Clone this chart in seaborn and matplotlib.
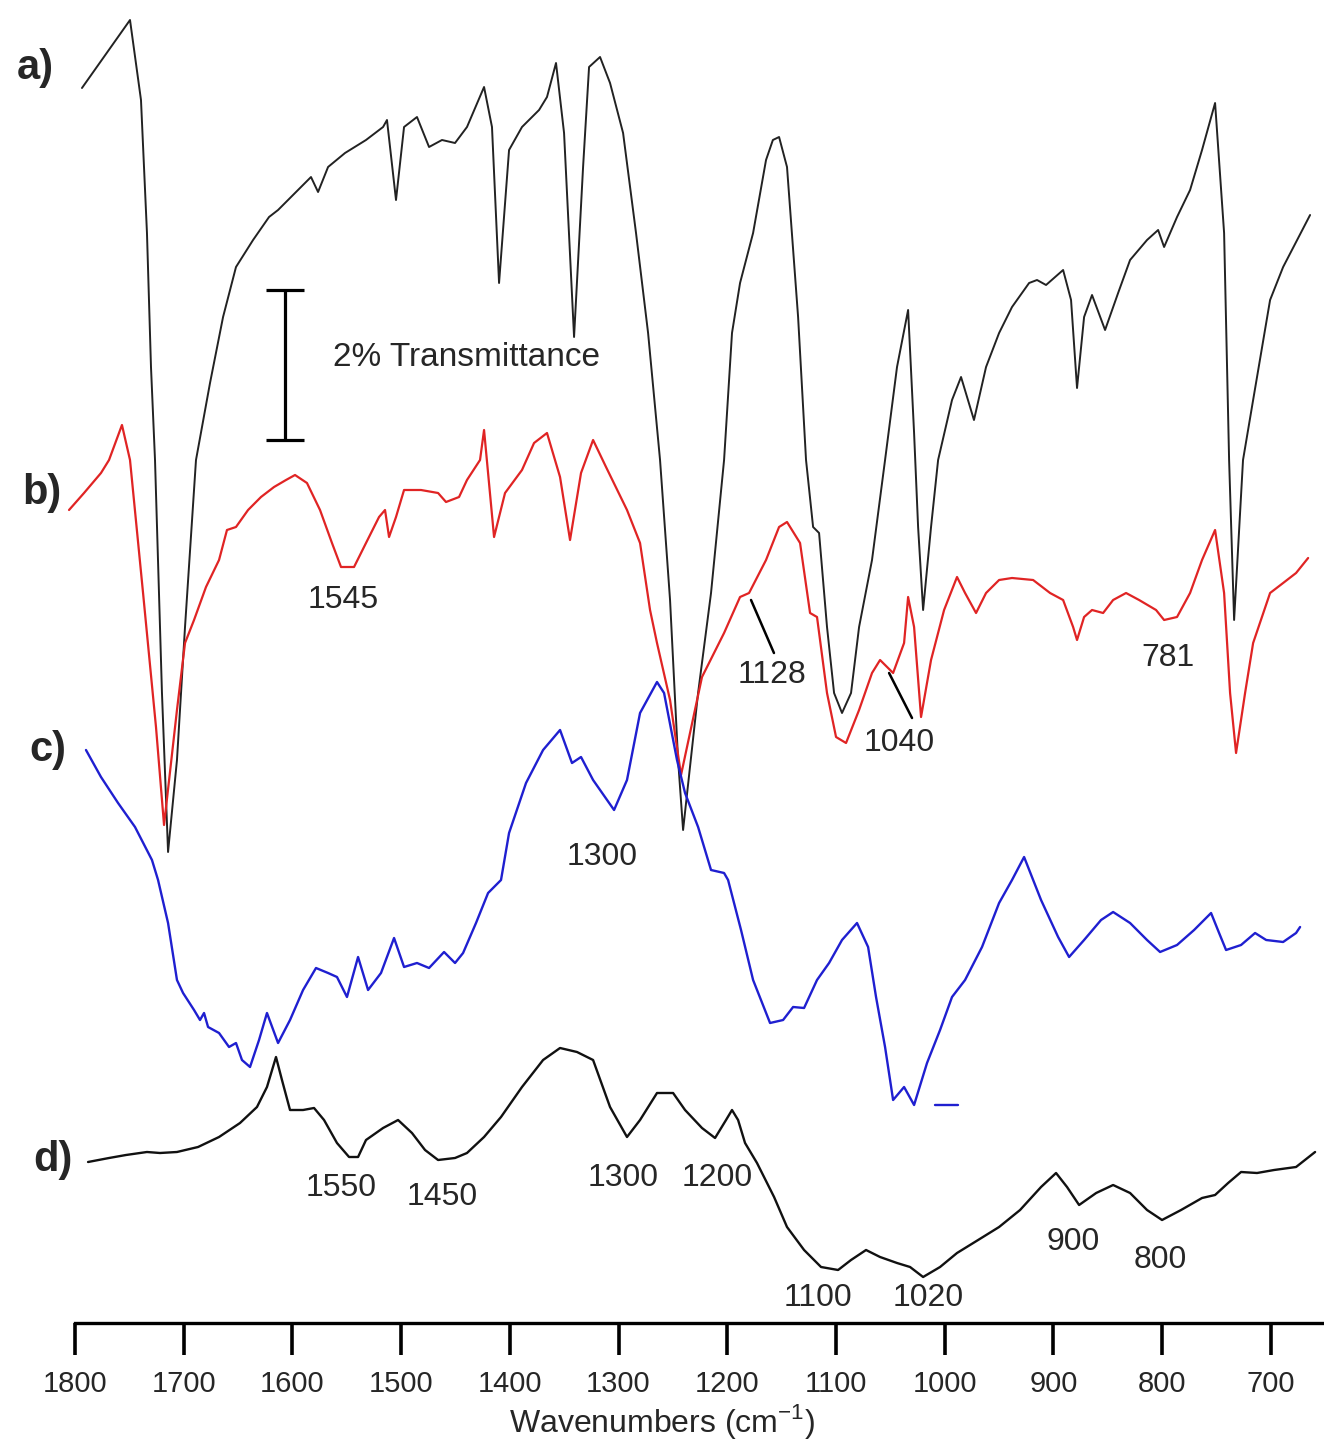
import numpy as np
import pandas as pd
import matplotlib
matplotlib.use("Agg")
import matplotlib.pyplot as plt
import seaborn as sns

# FTIR Spektren, Werte (Wellenzahl, relative Transmission in a.u.)
# 150 a.u. entsprechen 2 % Transmission

wn_a = [1793.6, 1749.4, 1739.3, 1733.8, 1730.1, 1726.4, 1720.0, 1714.4, 1706.2, 1698.8,
        1688.7, 1675.8, 1663.8, 1651.9, 1636.2, 1621.5, 1613.2, 1597.6, 1582.9, 1576.4,
        1567.2, 1551.6, 1532.3, 1516.6, 1513.0, 1504.7, 1497.3, 1485.4, 1474.3, 1462.4,
        1450.4, 1439.4, 1423.7, 1416.4, 1409.9, 1400.7, 1388.8, 1373.1, 1365.8, 1357.5,
        1350.1, 1340.9, 1332.6, 1327.1, 1317.0, 1307.8, 1295.8, 1283.9, 1272.8, 1261.8,
        1252.6, 1245.2, 1240.6, 1226.8, 1214.9, 1202.9, 1195.6, 1188.2, 1176.2, 1164.3,
        1158.0, 1152.3, 1145.0, 1134.8, 1127.5, 1121.0, 1115.5, 1108.2, 1101.7, 1094.4,
        1086.1, 1078.7, 1066.8, 1054.8, 1043.8, 1033.6, 1028.1, 1024.4, 1019.8, 1012.5,
        1006.0, 993.2, 984.9, 973.0, 961.9, 949.9, 938.0, 922.3, 915.0, 906.7,
        891.0, 883.7, 878.2, 871.7, 864.4, 852.4, 840.4, 829.4, 813.8, 803.6,
        798.1, 786.2, 774.2, 763.2, 751.2, 742.9, 738.3, 733.7, 725.5, 716.2,
        700.6, 688.6, 663.8]
t_a = [1360, 1428, 1348, 1215, 1081, 988, 755, 596, 688, 821,
       988, 1065, 1131, 1181, 1208, 1231, 1238, 1255, 1271, 1256,
       1281, 1295, 1308, 1321, 1328, 1248, 1321, 1331, 1301, 1308,
       1305, 1321, 1361, 1321, 1165, 1298, 1321, 1338, 1351, 1385,
       1315, 1111, 1281, 1381, 1391, 1365, 1315, 1215, 1115, 988,
       848, 688, 618, 755, 855, 988, 1115, 1165, 1215, 1288,
       1308, 1311, 1281, 1131, 988, 921, 915, 821, 755, 735,
       755, 821, 888, 988, 1081, 1138, 1015, 921, 838, 921,
       988, 1048, 1071, 1028, 1081, 1115, 1141, 1165, 1168, 1163,
       1178, 1148, 1060, 1131, 1153, 1118, 1155, 1188, 1208, 1218,
       1201, 1231, 1258, 1298, 1345, 1215, 988, 828, 988, 1048,
       1148, 1181, 1233]

wn_b = [1805.5, 1791.7, 1776.1, 1768.7, 1756.8, 1749.4, 1737.4, 1725.5, 1718.1, 1706.2,
        1698.8, 1690.5, 1679.5, 1667.5, 1660.2, 1651.9, 1640.8, 1628.9, 1616.9, 1605.9,
        1597.6, 1586.6, 1574.6, 1563.6, 1555.3, 1543.3, 1532.3, 1520.3, 1514.8, 1511.1,
        1504.7, 1497.3, 1481.7, 1466.0, 1458.7, 1446.7, 1439.4, 1427.4, 1423.7, 1414.5,
        1404.4, 1388.8, 1377.7, 1365.8, 1353.8, 1344.6, 1334.5, 1323.4, 1311.5, 1292.2,
        1280.2, 1271.0, 1264.6, 1252.6, 1242.5, 1223.2, 1202.9, 1188.2, 1179.9, 1164.3,
        1152.3, 1145.0, 1133.0, 1123.8, 1117.4, 1108.2, 1099.9, 1090.7, 1078.7, 1066.8,
        1059.4, 1047.4, 1037.3, 1033.6, 1028.1, 1021.7, 1012.5, 1000.5, 988.6, 981.2,
        971.1, 961.9, 949.9, 938.0, 918.6, 903.0, 891.0, 881.8, 878.2, 871.7,
        864.4, 854.2, 845.0, 833.1, 821.1, 805.5, 798.1, 786.2, 774.2, 763.2,
        751.2, 742.9, 737.4, 731.9, 723.6, 716.2, 700.6, 688.6, 676.7, 665.6]
t_b = [938, 955, 975, 988, 1023, 988, 855, 721, 623, 738,
       805, 828, 861, 888, 918, 921, 938, 951, 961, 968,
       973, 965, 938, 905, 881, 881, 905, 931, 938, 911,
       931, 958, 958, 955, 946, 951, 968, 988, 1018, 911,
       955, 978, 1005, 1015, 971, 908, 975, 1008, 981, 938,
       905, 838, 805, 748, 673, 771, 815, 851, 855, 888,
       921, 926, 905, 835, 831, 755, 711, 705, 738, 775,
       788, 775, 805, 851, 821, 731, 788, 838, 871, 855,
       835, 855, 868, 870, 868, 855, 848, 821, 808, 831,
       838, 835, 848, 855, 848, 838, 828, 831, 855, 888,
       918, 855, 755, 695, 755, 805, 855, 865, 875, 890]

wn_c = [1789.9, 1776.1, 1760.4, 1744.8, 1729.2, 1723.6, 1714.4, 1706.2, 1700.6, 1690.5,
        1685.0, 1681.3, 1677.6, 1667.5, 1658.3, 1651.9, 1646.4, 1639.0, 1630.7, 1623.4,
        1613.2, 1602.2, 1590.2, 1578.3, 1567.2, 1559.0, 1549.8, 1539.6, 1530.4, 1518.5,
        1506.5, 1497.3, 1485.4, 1474.3, 1460.5, 1450.4, 1443.0, 1431.1, 1420.0, 1408.1,
        1400.7, 1385.1, 1369.4, 1353.8, 1342.8, 1334.5, 1323.4, 1304.1, 1292.2, 1280.2,
        1264.6, 1258.1, 1246.2, 1238.8, 1226.8, 1214.9, 1202.9, 1199.2, 1187.3, 1176.2,
        1160.6, 1148.6, 1139.4, 1129.3, 1117.4, 1106.3, 1094.4, 1080.6, 1070.4, 1063.1,
        1054.8, 1047.4, 1037.3, 1028.1, 1016.2, 1004.2, 993.2, 981.2, 965.6, 949.9,
        938.0, 926.9, 911.3, 895.6, 885.5, 871.7, 856.1, 845.0, 829.4, 813.8,
        801.8, 786.2, 770.5, 754.9, 747.5, 741.1, 727.3, 714.4, 704.2, 688.6,
        676.7, 673.0]
t_c = [698, 671, 645, 621, 588, 568, 525, 468, 455, 438,
       428, 435, 421, 415, 401, 405, 388, 381, 408, 435,
       405, 428, 458, 480, 475, 471, 451, 491, 458, 475,
       510, 481, 485, 480, 496, 485, 495, 525, 555, 568,
       615, 665, 698, 718, 685, 691, 668, 638, 668, 735,
       766, 755, 688, 655, 621, 578, 575, 568, 518, 468,
       425, 428, 441, 440, 468, 485, 508, 525, 501, 451,
       401, 348, 361, 343, 385, 418, 451, 468, 501, 545,
       568, 591, 548, 511, 491, 508, 528, 536, 525, 508,
       496, 503, 518, 535, 515, 498, 503, 515, 508, 506,
       515, 521]
# kleiner Strich neben Spektrum c
wn_c_dash = [1008.8, 987.6]
t_c_dash = [343, 343]

wn_d = [1788.0, 1768.7, 1753.1, 1733.8, 1721.8, 1706.2, 1686.8, 1667.5, 1648.2, 1632.6,
        1623.4, 1615.1, 1609.6, 1602.2, 1590.2, 1580.1, 1570.9, 1559.0, 1547.9, 1539.6,
        1532.3, 1516.6, 1502.8, 1490.0, 1478.0, 1466.0, 1450.4, 1439.4, 1423.7, 1408.1,
        1388.8, 1369.4, 1353.8, 1338.2, 1323.4, 1307.8, 1292.2, 1280.2, 1264.6, 1249.8,
        1238.8, 1223.2, 1211.2, 1201.1, 1195.6, 1190.0, 1183.6, 1172.6, 1156.9, 1145.0,
        1129.3, 1113.7, 1098.0, 1086.1, 1072.3, 1059.4, 1043.8, 1031.8, 1019.8, 1004.2,
        988.6, 969.2, 949.9, 930.6, 911.3, 897.5, 887.4, 876.3, 860.6, 845.0,
        829.4, 813.8, 800.0, 782.5, 763.2, 751.2, 739.2, 727.3, 712.6, 696.9,
        676.7, 659.2]
t_d = [286, 290, 293, 296, 295, 296, 301, 311, 325, 341,
       361, 391, 368, 338, 338, 340, 328, 305, 291, 291,
       308, 320, 328, 315, 298, 288, 290, 295, 311, 331,
       361, 388, 400, 396, 388, 341, 311, 328, 355, 355,
       338, 320, 310, 328, 338, 328, 305, 285, 251, 221,
       198, 181, 178, 188, 198, 191, 185, 181, 171, 181,
       195, 208, 221, 238, 261, 275, 261, 243, 255, 263,
       255, 238, 228, 238, 250, 253, 265, 276, 275, 278,
       281, 296]

# Beschriftungen der Banden (Text, Wellenzahl, Hoehe)
band_labels = ['1545', '1128', '1040', '781', '1300', '1550', '1450', '1300', '1200',
               '1100', '1020', '900', '800']
band_x = [1553.4, 1158.8, 1041.9, 794.4, 1315.2, 1555.3, 1462.4, 1295.8, 1209.4,
          1116.4, 1015.2, 881.8, 801.8]
band_y = [848, 773, 705, 790, 591, 260, 251, 270, 270, 150, 150, 206, 188]

panel_labels = ['a)', 'b)', 'c)', 'd)']
panel_x = [1836.8, 1830.4, 1824.8, 1820.2]
panel_y = [1380, 955, 698, 288]

ticks = list(range(1800, 600, -100))

sns.set_style('white')
plt.rcParams['font.family'] = ['Liberation Sans', 'DejaVu Sans']
plt.rcParams['mathtext.fontset'] = 'custom'
plt.rcParams['mathtext.rm'] = 'Liberation Sans'

fig = plt.figure(figsize=(13.24, 14.48), dpi=100)
ax = fig.add_axes([0, 125 / 1448, 1, 1323 / 1448])

spectra = [(wn_a, t_a, '#222222', 1.4),
           (wn_b, t_b, '#e02424', 1.6),
           (wn_c, t_c, '#1f1fd0', 1.7),
           (wn_d, t_d, '#111111', 1.7)]
for wn, t, col, lw in spectra:
    df = pd.DataFrame({'wn': wn, 't': t})
    sns.lineplot(data=df, x='wn', y='t', ax=ax, color=col, lw=lw,
                 sort=False, estimator=None, solid_joinstyle='round')
sns.lineplot(x=wn_c_dash, y=t_c_dash, ax=ax, color='#1f1fd0', lw=1.7,
             sort=False, estimator=None)

# Leitlinien zu 1128 und 1040
ax.plot([1178.1, 1157.0], [848, 795], color='black', lw=1.8)
ax.plot([1051.1, 1030.0], [775, 730], color='black', lw=1.8)

# Massstab 2 % Transmission
ax.errorbar([1606.8], [1083], yerr=[75], color='black', elinewidth=2.3,
            capsize=14, capthick=2.3)
ax.text(1562.6, 1090, '2% Transmittance', fontsize=24, ha='left', va='center')

for lab, x, y in zip(band_labels, band_x, band_y):
    ax.text(x, y, lab, fontsize=23, ha='center', va='center')
for lab, x, y in zip(panel_labels, panel_x, panel_y):
    ax.text(x, y, lab, fontsize=30, fontweight='bold', ha='center', va='center')

ax.set_xlim(1869, 651)
ax.set_ylim(125, 1448)
ax.set_xticks(ticks)
ax.set_yticks([])
ax.set_ylabel('')
ax.set_xlabel('Wavenumbers (cm$^{\\mathregular{-1}}$)', fontsize=23, labelpad=3)
for s in ['top', 'left', 'right']:
    ax.spines[s].set_visible(False)
ax.spines['bottom'].set_bounds(1800, 651)
ax.spines['bottom'].set_linewidth(2.4)
ax.spines['bottom'].set_color('black')
ax.tick_params(axis='x', direction='out', length=23, width=2.6, pad=11,
               labelsize=21, color='black', bottom=True)
ax.patch.set_alpha(0)

fig.savefig('out.png', dpi=100)
